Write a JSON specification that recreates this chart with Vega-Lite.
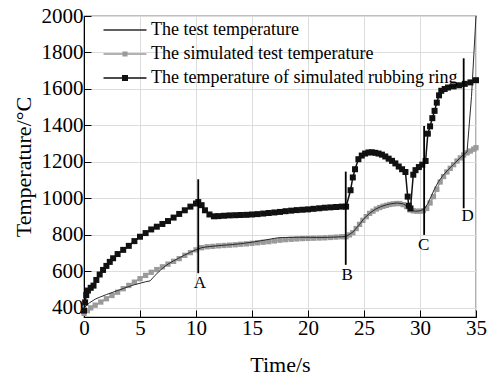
{
 "$schema": "https://vega.github.io/schema/vega-lite/v6.json",
 "width": 392, "height": 301,
 "autosize": {"type": "none"},
 "padding": {"left": 84, "top": 16, "right": 12, "bottom": 68},
 "background": "white",
 "config": {
  "font": "Liberation Serif",
  "view": {"stroke": "#000", "strokeWidth": 1.2}
 },
 "datasets": {
  "curves": [
   {"s":"a","t":0,"v":400},{"s":"a","t":0.5,"v":428},{"s":"a","t":1,"v":448},{"s":"a","t":1.5,"v":461},{"s":"a","t":2,"v":473},{"s":"a","t":2.5,"v":484},{"s":"a","t":3,"v":495},{"s":"a","t":3.5,"v":506},{"s":"a","t":4,"v":517},{"s":"a","t":4.5,"v":527},{"s":"a","t":5,"v":535},{"s":"a","t":5.5,"v":543},{"s":"a","t":5.9,"v":548},{"s":"a","t":6.3,"v":575},{"s":"a","t":6.7,"v":600},{"s":"a","t":7.1,"v":622},{"s":"a","t":7.5,"v":640},{"s":"a","t":8,"v":658},{"s":"a","t":8.5,"v":674},{"s":"a","t":9,"v":690},{"s":"a","t":9.5,"v":705},{"s":"a","t":10,"v":718},{"s":"a","t":10.5,"v":730},{"s":"a","t":11,"v":735},{"s":"a","t":12,"v":741},{"s":"a","t":13,"v":746},{"s":"a","t":14,"v":752},{"s":"a","t":15,"v":760},{"s":"a","t":16,"v":770},{"s":"a","t":17,"v":781},{"s":"a","t":17.5,"v":785},{"s":"a","t":18,"v":786},{"s":"a","t":19,"v":787},{"s":"a","t":20,"v":787},{"s":"a","t":21,"v":786},{"s":"a","t":22,"v":787},{"s":"a","t":23,"v":790},{"s":"a","t":23.4,"v":791},{"s":"a","t":24,"v":815},{"s":"a","t":24.5,"v":850},{"s":"a","t":25,"v":890},{"s":"a","t":25.5,"v":918},{"s":"a","t":26,"v":940},{"s":"a","t":26.5,"v":955},{"s":"a","t":27,"v":965},{"s":"a","t":27.5,"v":972},{"s":"a","t":28,"v":975},{"s":"a","t":28.5,"v":970},{"s":"a","t":28.9,"v":955},{"s":"a","t":29.2,"v":935},{"s":"a","t":29.6,"v":930},{"s":"a","t":30,"v":932},{"s":"a","t":30.4,"v":942},{"s":"a","t":30.7,"v":972},{"s":"a","t":31,"v":1012},{"s":"a","t":31.3,"v":1052},{"s":"a","t":31.6,"v":1087},{"s":"a","t":32,"v":1122},{"s":"a","t":32.5,"v":1157},{"s":"a","t":33,"v":1187},{"s":"a","t":33.5,"v":1217},{"s":"a","t":34,"v":1245},{"s":"a","t":34.2,"v":1255},{"s":"a","t":34.6,"v":1560},{"s":"a","t":35,"v":2000},
   {"s":"b","t":0,"v":370},{"s":"b","t":0.3,"v":385},{"s":"b","t":0.6,"v":400},{"s":"b","t":1,"v":415},{"s":"b","t":1.5,"v":432},{"s":"b","t":2,"v":450},{"s":"b","t":2.5,"v":468},{"s":"b","t":3,"v":486},{"s":"b","t":3.5,"v":505},{"s":"b","t":4,"v":523},{"s":"b","t":4.5,"v":541},{"s":"b","t":5,"v":560},{"s":"b","t":5.5,"v":578},{"s":"b","t":6,"v":595},{"s":"b","t":6.5,"v":610},{"s":"b","t":7,"v":625},{"s":"b","t":7.5,"v":640},{"s":"b","t":8,"v":655},{"s":"b","t":8.5,"v":670},{"s":"b","t":9,"v":688},{"s":"b","t":9.5,"v":703},{"s":"b","t":10,"v":718},{"s":"b","t":10.5,"v":730},{"s":"b","t":11,"v":735},{"s":"b","t":11.5,"v":737},{"s":"b","t":12,"v":740},{"s":"b","t":12.5,"v":742},{"s":"b","t":13,"v":744},{"s":"b","t":13.5,"v":746},{"s":"b","t":14,"v":749},{"s":"b","t":14.5,"v":751},{"s":"b","t":15,"v":754},{"s":"b","t":15.5,"v":757},{"s":"b","t":16,"v":760},{"s":"b","t":16.5,"v":763},{"s":"b","t":17,"v":767},{"s":"b","t":17.5,"v":771},{"s":"b","t":18,"v":774},{"s":"b","t":18.5,"v":776},{"s":"b","t":19,"v":778},{"s":"b","t":19.5,"v":780},{"s":"b","t":20,"v":781},{"s":"b","t":20.5,"v":782},{"s":"b","t":21,"v":783},{"s":"b","t":21.5,"v":784},{"s":"b","t":22,"v":786},{"s":"b","t":22.5,"v":788},{"s":"b","t":23,"v":790},{"s":"b","t":23.4,"v":790},{"s":"b","t":23.7,"v":800},{"s":"b","t":24,"v":812},{"s":"b","t":24.3,"v":835},{"s":"b","t":24.6,"v":858},{"s":"b","t":24.9,"v":880},{"s":"b","t":25.2,"v":900},{"s":"b","t":25.5,"v":918},{"s":"b","t":25.8,"v":930},{"s":"b","t":26.1,"v":942},{"s":"b","t":26.4,"v":950},{"s":"b","t":26.7,"v":957},{"s":"b","t":27,"v":962},{"s":"b","t":27.3,"v":967},{"s":"b","t":27.6,"v":970},{"s":"b","t":27.9,"v":972},{"s":"b","t":28.2,"v":972},{"s":"b","t":28.5,"v":966},{"s":"b","t":28.8,"v":955},{"s":"b","t":29.1,"v":937},{"s":"b","t":29.4,"v":932},{"s":"b","t":29.7,"v":930},{"s":"b","t":30,"v":930},{"s":"b","t":30.3,"v":933},{"s":"b","t":30.6,"v":945},{"s":"b","t":30.9,"v":975},{"s":"b","t":31.2,"v":1010},{"s":"b","t":31.5,"v":1050},{"s":"b","t":31.8,"v":1090},{"s":"b","t":32.1,"v":1120},{"s":"b","t":32.4,"v":1145},{"s":"b","t":32.7,"v":1165},{"s":"b","t":33,"v":1185},{"s":"b","t":33.3,"v":1205},{"s":"b","t":33.6,"v":1222},{"s":"b","t":33.9,"v":1238},{"s":"b","t":34.2,"v":1250},{"s":"b","t":34.5,"v":1260},{"s":"b","t":34.8,"v":1270},{"s":"b","t":35,"v":1278},
   {"s":"c","t":0,"v":385},{"s":"c","t":0.1,"v":430},{"s":"c","t":0.2,"v":470},{"s":"c","t":0.35,"v":495},{"s":"c","t":0.6,"v":510},{"s":"c","t":0.85,"v":522},{"s":"c","t":1.1,"v":553},{"s":"c","t":1.4,"v":583},{"s":"c","t":1.7,"v":608},{"s":"c","t":2,"v":630},{"s":"c","t":2.3,"v":652},{"s":"c","t":2.6,"v":672},{"s":"c","t":3,"v":695},{"s":"c","t":3.5,"v":718},{"s":"c","t":4,"v":740},{"s":"c","t":4.5,"v":766},{"s":"c","t":5,"v":790},{"s":"c","t":5.5,"v":810},{"s":"c","t":6,"v":830},{"s":"c","t":6.5,"v":845},{"s":"c","t":7,"v":860},{"s":"c","t":7.5,"v":876},{"s":"c","t":8,"v":895},{"s":"c","t":8.5,"v":915},{"s":"c","t":9,"v":935},{"s":"c","t":9.5,"v":955},{"s":"c","t":10,"v":972},{"s":"c","t":10.2,"v":980},{"s":"c","t":10.5,"v":963},{"s":"c","t":10.8,"v":935},{"s":"c","t":11.2,"v":912},{"s":"c","t":11.6,"v":902},{"s":"c","t":12,"v":903},{"s":"c","t":12.5,"v":905},{"s":"c","t":13,"v":907},{"s":"c","t":13.5,"v":908},{"s":"c","t":14,"v":909},{"s":"c","t":14.5,"v":910},{"s":"c","t":15,"v":912},{"s":"c","t":15.5,"v":914},{"s":"c","t":16,"v":917},{"s":"c","t":16.5,"v":920},{"s":"c","t":17,"v":923},{"s":"c","t":17.5,"v":926},{"s":"c","t":18,"v":930},{"s":"c","t":18.5,"v":933},{"s":"c","t":19,"v":936},{"s":"c","t":19.5,"v":938},{"s":"c","t":20,"v":940},{"s":"c","t":20.5,"v":943},{"s":"c","t":21,"v":946},{"s":"c","t":21.5,"v":949},{"s":"c","t":22,"v":951},{"s":"c","t":22.5,"v":953},{"s":"c","t":23,"v":955},{"s":"c","t":23.4,"v":955},{"s":"c","t":23.8,"v":1045},{"s":"c","t":24,"v":1115},{"s":"c","t":24.2,"v":1160},{"s":"c","t":24.5,"v":1215},{"s":"c","t":24.8,"v":1235},{"s":"c","t":25.1,"v":1246},{"s":"c","t":25.4,"v":1252},{"s":"c","t":25.7,"v":1253},{"s":"c","t":26,"v":1250},{"s":"c","t":26.3,"v":1246},{"s":"c","t":26.6,"v":1240},{"s":"c","t":26.9,"v":1230},{"s":"c","t":27.2,"v":1218},{"s":"c","t":27.5,"v":1206},{"s":"c","t":27.8,"v":1192},{"s":"c","t":28.1,"v":1175},{"s":"c","t":28.4,"v":1160},{"s":"c","t":28.7,"v":1145},{"s":"c","t":28.9,"v":1010},{"s":"c","t":29,"v":960},{"s":"c","t":29.15,"v":945},{"s":"c","t":29.4,"v":1130},{"s":"c","t":29.6,"v":1155},{"s":"c","t":29.9,"v":1172},{"s":"c","t":30.2,"v":1185},{"s":"c","t":30.5,"v":1205},{"s":"c","t":30.7,"v":1355},{"s":"c","t":30.9,"v":1395},{"s":"c","t":31.1,"v":1440},{"s":"c","t":31.3,"v":1480},{"s":"c","t":31.5,"v":1525},{"s":"c","t":31.7,"v":1565},{"s":"c","t":31.9,"v":1590},{"s":"c","t":32.2,"v":1600},{"s":"c","t":32.5,"v":1608},{"s":"c","t":33,"v":1614},{"s":"c","t":33.5,"v":1620},{"s":"c","t":34,"v":1628},{"s":"c","t":34.5,"v":1636},{"s":"c","t":35,"v":1648}
  ],
  "rules": [
   {"m":"A","t":10.2,"v":1105,"v2":590},
   {"m":"B","t":23.37,"v":1147,"v2":636},
   {"m":"C","t":30.37,"v":1397,"v2":800},
   {"m":"D","t":33.9,"v":1768,"v2":946}
  ],
  "labels": [
   {"m":"A","t":10.35,"v":539},
   {"m":"B","t":23.5,"v":581},
   {"m":"C","t":30.32,"v":745},
   {"m":"D","t":34.26,"v":904}
  ]
 },
 "layer": [
  {"data": {"name": "curves"}, "transform": [{"filter": "datum.s === 'b'"}], "mark": {"type": "line", "strokeWidth": 1.5},
   "encoding": {
    "x": {"field": "t", "type": "quantitative", "scale": {"domain": [0, 35], "nice": false, "zero": false},
     "axis": {"title": "Time/s", "tickCount": 7, "labelFlush": false, "labelOverlap": false, "tickSize": -7, "tickColor": "#000", "domainColor": "#000", "labelPadding": 7, "labelFont": "Liberation Serif", "labelFontSize": 21, "labelColor": "#000", "titleFont": "Liberation Serif", "titleFontSize": 22, "titleFontWeight": "normal", "titleColor": "#000", "titlePadding": 16}},
    "y": {"field": "v", "type": "quantitative", "scale": {"domain": [350, 2000], "nice": false, "zero": false},
     "axis": {"title": "Temperature/°C", "format": "d", "tickCount": 9, "labelOverlap": false, "tickSize": -7, "tickColor": "#000", "domainColor": "#000", "labelPadding": 8, "labelFont": "Liberation Serif", "labelFontSize": 21, "labelColor": "#000", "titleFont": "Liberation Serif", "titleFontSize": 22, "titleFontWeight": "normal", "titleColor": "#000", "titlePadding": 6}},
    "color": {"field": "s", "type": "nominal", "scale": {"domain": ["a","b","c"], "range": ["#2b2b2b","#9a9a9a","#111111"]},
    "legend": {"orient": "none", "legendX": 32, "legendY": 5, "title": null, "padding": 0, "symbolSize": 196, "labelOffset": 17, "rowPadding": 6, "labelFont": "Liberation Serif", "labelFontSize": 18, "labelColor": "#000", "labelLimit": 400,
     "labelExpr": "datum.label === 'a' ? 'The test temperature' : datum.label === 'b' ? 'The simulated test temperature' : 'The temperature of simulated rubbing ring'",
     "encode": {"symbols": {"update": {
      "shape": {"signal": "datum.value === 'a' ? 'M-3.07,-0.09H3.07V0.09H-3.07Z' : datum.value === 'b' ? 'M-3.07,-0.1H3.07V0.1H-3.07Z M-0.36,-0.36H0.36V0.36H-0.36Z' : 'M-3.07,-0.12H3.07V0.12H-3.07Z M-0.43,-0.43H0.43V0.43H-0.43Z'"},
      "fill": {"signal": "datum.value === 'b' ? '#9a9a9a' : datum.value === 'a' ? '#2b2b2b' : '#111111'"},
      "stroke": {"value": "transparent"}, "strokeWidth": {"value": 0}, "opacity": {"value": 1}, "fillOpacity": {"value": 1}}}}}}}},
  {"data": {"name": "curves"}, "transform": [{"filter": "datum.s === 'b'"}], "mark": {"type": "point", "shape": "square", "filled": true, "size": 28, "color": "#9a9a9a", "opacity": 1}, "encoding": {"x": {"field": "t", "type": "quantitative"}, "y": {"field": "v", "type": "quantitative"}}},
  {"data": {"name": "curves"}, "transform": [{"filter": "datum.s === 'a'"}], "mark": {"type": "line", "strokeWidth": 1}, "encoding": {"x": {"field": "t", "type": "quantitative"}, "y": {"field": "v", "type": "quantitative"}, "color": {"field": "s", "type": "nominal"}}},
  {"data": {"name": "curves"}, "transform": [{"filter": "datum.s === 'c'"}], "mark": {"type": "line", "strokeWidth": 1.5}, "encoding": {"x": {"field": "t", "type": "quantitative"}, "y": {"field": "v", "type": "quantitative"}, "color": {"field": "s", "type": "nominal"}}},
  {"data": {"name": "curves"}, "transform": [{"filter": "datum.s === 'c'"}], "mark": {"type": "point", "shape": "square", "filled": true, "size": 36, "color": "#111111", "opacity": 1}, "encoding": {"x": {"field": "t", "type": "quantitative"}, "y": {"field": "v", "type": "quantitative"}}},
  {"data": {"name": "rules"}, "mark": {"type": "rule", "color": "#000", "strokeWidth": 1.8}, "encoding": {"x": {"field": "t", "type": "quantitative"}, "y": {"field": "v", "type": "quantitative"}, "y2": {"field": "v2"}}},
  {"data": {"name": "labels"}, "mark": {"type": "text", "font": "Liberation Serif", "fontSize": 17, "color": "#000", "baseline": "middle", "align": "center"}, "encoding": {"x": {"field": "t", "type": "quantitative"}, "y": {"field": "v", "type": "quantitative"}, "text": {"field": "m"}}}
 ]
}
